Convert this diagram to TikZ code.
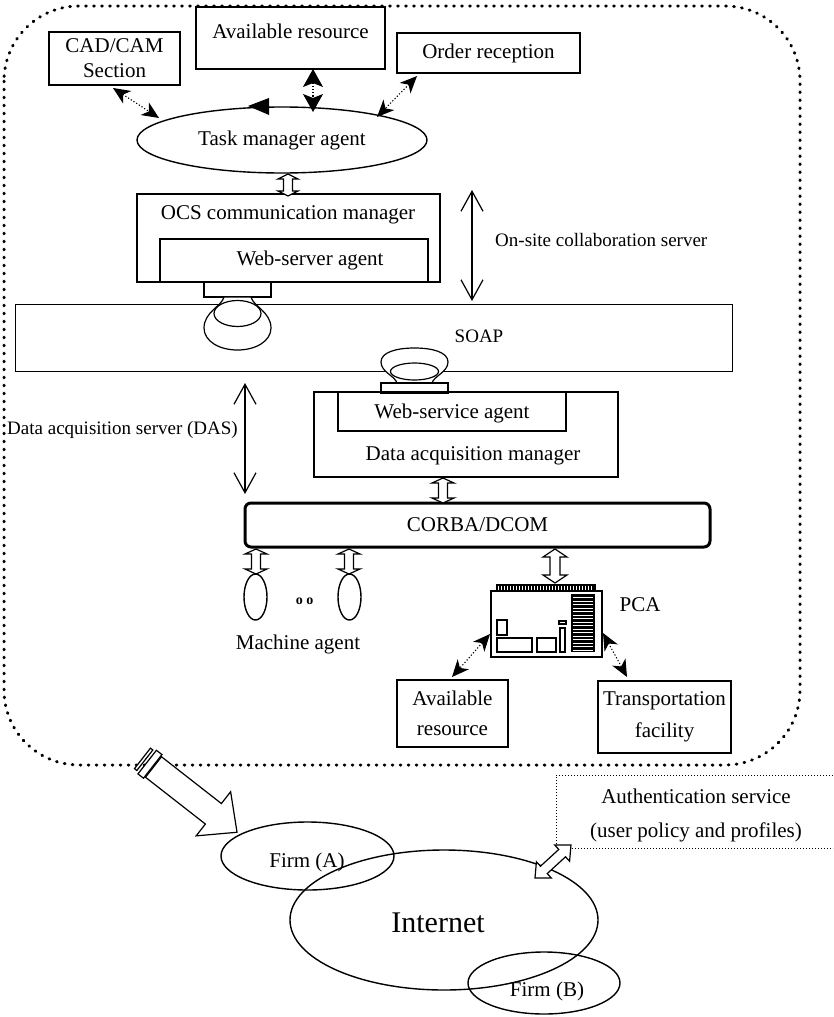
\documentclass[tikz,border=0pt]{standalone}
\usepackage{fontspec}
\setmainfont{Liberation Serif}
\usetikzlibrary{arrows.meta,calc,shapes.geometric}

% hollow double-headed block arrow between two named points
% #1,#2: end points, #3: half head width, #4: half shaft width, #5: head length
\newcommand\hollowdbl[5]{%
  \draw[hollowline] let \p1=($(#2)-(#1)$), \n1={atan2(\y1,\x1)}, \n2={veclen(\x1,\y1)} in
    [shift={(#1)}, rotate=\n1]
    (0,0) -- (#5,#3) -- (#5,#4) -- (\n2-#5,#4) -- (\n2-#5,#3) -- (\n2,0)
    -- (\n2-#5,-#3) -- (\n2-#5,-#4) -- (#5,-#4) -- (#5,-#3) -- cycle;}

\tikzset{
  box/.style={draw, line width=1.5pt, inner sep=0pt, align=center, font=\fontsize{21}{25}\selectfont},
  ibox/.style={box, line width=1.2pt},
  oval/.style={draw, ellipse, line width=1.4pt, inner sep=0pt, font=\fontsize{21}{25}\selectfont},
  txt/.style={inner sep=0pt, align=center, font=\fontsize{21}{25}\selectfont},
  small/.style={inner sep=0pt, font=\fontsize{19}{23}\selectfont},
  hollowline/.style={fill=white, line width=1.2pt, line join=miter},
  dotarrow/.style={line width=1.1pt, dash pattern=on 1.2pt off 2pt,
    {Stealth[length=17pt,width=15pt,inset=5pt]}-{Stealth[length=17pt,width=15pt,inset=5pt]}},
  dotarrowv/.style={line width=1.1pt, dash pattern=on 1.2pt off 2pt,
    {Stealth[length=18pt,width=20pt,inset=4pt]}-{Stealth[length=18pt,width=20pt,inset=4pt]}},
  vee/.style={line width=1.2pt, {Straight Barb[length=20pt,width=22pt]}-{Straight Barb[length=20pt,width=22pt]}},
  boundary/.style={line width=3pt, line cap=round, dash pattern=on 0.8pt off 7.2pt},
  authline/.style={line width=1pt, dash pattern=on 1pt off 2pt},
  plug/.style={line width=1.2pt, fill=white},
}

\begin{document}
\begin{tikzpicture}[x=1pt,y=-1pt]
\useasboundingbox (0,0) rectangle (833,1017);

% on-site boundary
\draw[boundary, rounded corners=75pt] (4,6) rectangle (800,765);

% ---- task manager level
\node[box, minimum width=131, minimum height=53] (cad) at (114.5,58.5) {CAD/CAM\\Section};
\node[box, minimum width=189, minimum height=62] (avt) at (290.5,38) {};
\node[txt] (avtl) at (290.5,31) {Available resource};
\node[box, minimum width=183, minimum height=40] (ord) at (488.5,53) {Order reception};
\node[oval, minimum width=290, minimum height=66] (tma) at (282,140) {Task manager agent};

\coordinate (cadTip) at (113,88);  \coordinate (tmaL) at (159,118);
\coordinate (avtTip) at (313,69);  \coordinate (tmaT) at (313,112);
\coordinate (ordTip) at (417,76);  \coordinate (tmaR) at (377,117);
\draw[dotarrow] (cadTip) -- (tmaL);
\draw[dotarrowv] (avtTip) -- (tmaT);
\draw[dotarrow] (ordTip) -- (tmaR);
\fill (248,106) -- (269,98) -- (269,115) -- cycle;

% ---- OCS communication manager
\node[ibox, minimum width=303, minimum height=88] (ocs) at (288.5,238) {};
\node[txt] (ocsl) at (288,215) {OCS communication manager};
\node[ibox, minimum width=268, minimum height=43] (wsa) at (294,260.5) {};
\node[txt] (wsal) at (310,260) {Web-server agent};
\node[ibox, minimum width=67, minimum height=15] (con1) at (237.5,289.5) {};
\coordinate (h1a) at (288,174); \coordinate (h1b) at (288,196);
\hollowdbl{h1a}{h1b}{10}{4.5}{5}

% ---- SOAP bus
\node[draw, line width=1pt, inner sep=0pt, minimum width=717, minimum height=67] (soap) at (373.5,337.5) {};
\node[small] (soapl) at (479,336) {SOAP};

% socket under the web-server agent
\draw[plug] (224,297) .. controls (222,306) and (204,312) .. (204,328)
  .. controls (204,341) and (219,350) .. (237.5,350)
  .. controls (256,350) and (271,341) .. (271,328)
  .. controls (271,312) and (253,306) .. (251,297) -- cycle;
\draw[line width=1.2pt] (237.5,313.5) ellipse [x radius=23.5pt, y radius=13pt];

% socket above the web-service agent
\draw[plug] (397,383) .. controls (395,376) and (381,372) .. (381,362)
  .. controls (381,352) and (397,348) .. (414.5,348)
  .. controls (432,348) and (448,352) .. (448,362)
  .. controls (448,372) and (434,376) .. (432,383) -- cycle;
\draw[line width=1.2pt] (414.5,371.5) ellipse [x radius=24pt, y radius=8.5pt];

% ---- data acquisition manager
\node[ibox, minimum width=67, minimum height=10] (con2) at (414.5,388) {};
\node[ibox, minimum width=304, minimum height=85] (dam) at (466,434.5) {};
\node[ibox, minimum width=228, minimum height=39] (wsv) at (452,411.5) {};
\node[txt] (wsvl) at (452,413) {Web-service agent};
\node[txt] (daml) at (473,456) {Data acquisition manager};

% server spans
\coordinate (os1) at (472,190); \coordinate (os2) at (472,301);
\draw[vee] (os1) -- (os2);
\node[small, anchor=west] (osl) at (495,240) {On-site collaboration server};
\coordinate (das1) at (245,383); \coordinate (das2) at (245,494);
\draw[vee] (das1) -- (das2);
\node[small, anchor=east] (dasl) at (238,430) {Data acquisition server (DAS)};

% ---- CORBA/DCOM
\node[draw, line width=3pt, rounded corners=6pt, inner sep=0pt, minimum width=465, minimum height=44,
  font=\fontsize{21}{25}\selectfont] (corba) at (477.5,525) {CORBA/DCOM};
\coordinate (h2a) at (443,478); \coordinate (h2b) at (443,503);
\hollowdbl{h2a}{h2b}{11}{4.5}{5}

% machine agents
\node[oval, minimum width=23, minimum height=46] (m1) at (255.5,597) {};
\node[oval, minimum width=23, minimum height=46] (m2) at (349.5,597) {};
\coordinate (h3a) at (256,549); \coordinate (h3b) at (256,574);
\coordinate (h4a) at (349,549); \coordinate (h4b) at (349,574);
\hollowdbl{h3a}{h3b}{11}{4.5}{5}
\hollowdbl{h4a}{h4b}{11}{4.5}{5}
\node[inner sep=0pt, font=\fontsize{14}{15}\selectfont\bfseries] (mdots) at (304.5,601) {o o};
\node[txt] (mal) at (298,644) {Machine agent};

% PCA board
\node[draw, line width=1.4pt, inner sep=0pt, minimum width=111, minimum height=66] (pca) at (546.5,624) {};
\fill (496,584) rectangle (596,591);
\foreach \x in {498.5,501.5,...,594} \draw[white, line width=0.9pt] (\x,585.5) -- (\x,589.5);
\draw[line width=1.1pt] (497,620) rectangle (507,635);
\draw[line width=1.1pt] (497,638) rectangle (532,652);
\draw[line width=1.1pt] (537,638) rectangle (556,652);
\draw[line width=1.1pt] (560,628) rectangle (565,652);
\draw[line width=1.1pt] (559,621) rectangle (566,624);
\fill (571,594) rectangle (595,652);
\foreach \y in {597.5,601,...,650} \draw[white, line width=1pt] (573,\y) -- (593,\y);
\node[txt] (pcal) at (640,605) {PCA};
\coordinate (h5a) at (555,549); \coordinate (h5b) at (555,583);
\hollowdbl{h5a}{h5b}{12}{5}{8}

% PCA resources
\node[box, minimum width=111, minimum height=67, font=\fontsize{21}{30}\selectfont] (avb) at (452.5,713.5) {Available\\resource};
\node[box, minimum width=133, minimum height=72, font=\fontsize{21}{32}\selectfont] (trn) at (664.5,717) {Transportation\\facility};
\coordinate (pcaL) at (490,634); \coordinate (avbTip) at (452,677);
\coordinate (pcaR) at (603,633); \coordinate (trnTip) at (627,677);
\draw[dotarrow] (pcaL) -- (avbTip);
\draw[dotarrow] (pcaR) -- (trnTip);

% ---- network
\node[oval, minimum width=173, minimum height=68] (firmA) at (307.5,856) {};
\node[txt] (firmAl) at (307,862) {Firm (A)};
\node[oval, minimum width=308, minimum height=140] (inet) at (444,920) {};
\node[inner sep=0pt, font=\fontsize{30}{34}\selectfont] (inetl) at (438,923) {Internet};
\node[oval, minimum width=152, minimum height=62] (firmB) at (544,983) {};
\node[txt] (firmBl) at (547,991) {Firm (B)};

% authentication service
\draw[authline] (833,775) -- (556,775) -- (556,848) -- (833,848);
\node[txt, font=\fontsize{21}{34}\selectfont] (auth) at (696,815) {Authentication service\\(user policy and profiles)};
\coordinate (h6a) at (535,878); \coordinate (h6b) at (571,845);
\hollowdbl{h6a}{h6b}{11}{5}{12}

% export arrow from the site to Firm (A)
\begin{scope}[shift={(153.5,767)}, rotate=-38]
  \draw[hollowline] (0,-13) -- (76,-13) -- (76,-28) -- (106,0) -- (76,28) -- (76,13) -- (0,13) -- cycle;
  \draw[hollowline] (-8,-15) rectangle (-1,15);
  \draw[hollowline] (-14,-13) rectangle (-11,13);
\end{scope}
\end{tikzpicture}
\end{document}
